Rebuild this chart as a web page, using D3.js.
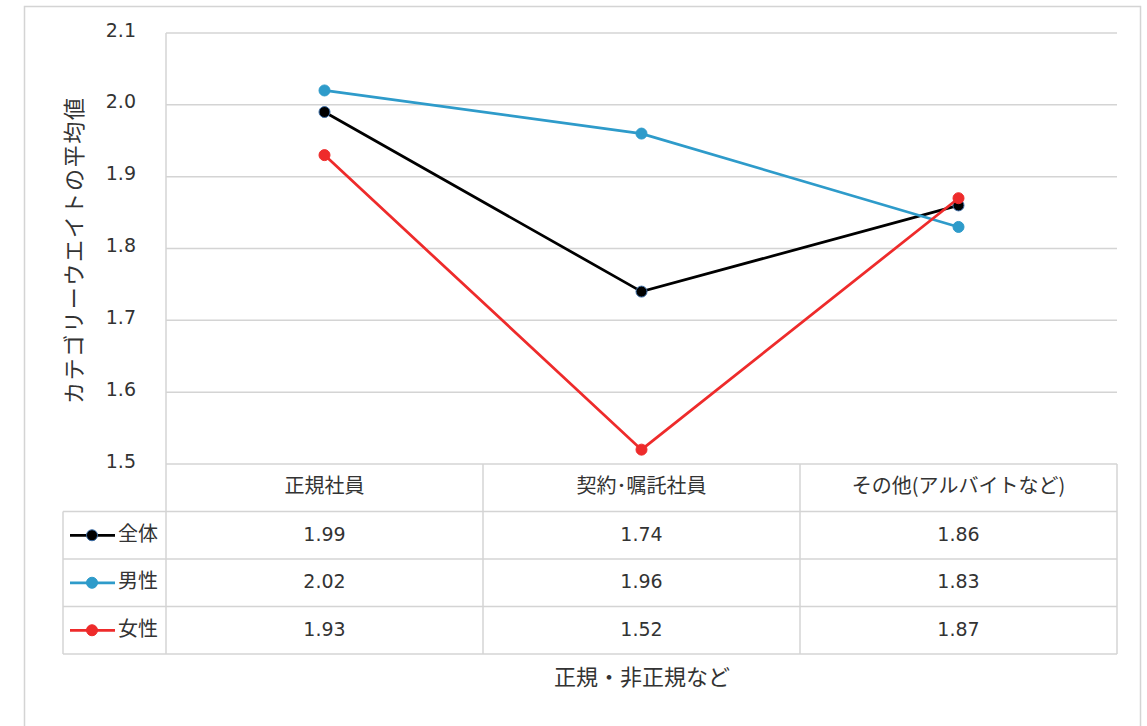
<!DOCTYPE html>
<html><head><meta charset="utf-8">
<script src="https://cdn.jsdelivr.net/npm/d3@7"></script>
<style>
body{margin:0;background:#fff;}
text{font-family:"DejaVu Sans","Noto Sans CJK JP",sans-serif;fill:#333;}
</style></head>
<body>
<svg id="chart" width="1147" height="726"></svg>
<script>
const categories = ["正規社員", "契約･嘱託社員", "その他(アルバイトなど)"];
const seriesNames = ["全体", "男性", "女性"];
const seriesColors = ["#000000", "#2E9BCA", "#EE2B2B"];
const totalValues = [1.99, 1.74, 1.86];
const maleValues = [2.02, 1.96, 1.83];
const femaleValues = [1.93, 1.52, 1.87];
const yTicks = [1.5, 1.6, 1.7, 1.8, 1.9, 2.0, 2.1];
const yTitle = "カテゴリーウエイトの平均値";
const xTitle = "正規・非正規など";

const series = [totalValues, maleValues, femaleValues].map((v, i) => ({
  name: seriesNames[i], color: seriesColors[i], values: v
}));

const svg = d3.select("#chart");
const plot = {left: 166, right: 1117, top: 33, bottom: 464};
const rowH = 47.5;
const legendLeft = 63;
const grid = "#D4D4D4";
const cjk = "'Noto Sans CJK JP',sans-serif";

// outer frame
svg.append("rect").attr("x", 24.5).attr("y", 6.5).attr("width", 1116).attr("height", 740)
  .attr("fill", "none").attr("stroke", grid).attr("stroke-width", 1.5);

const x = d3.scaleBand().domain(categories).range([plot.left, plot.right]);
const y = d3.scaleLinear().domain([1.5, 2.1]).range([plot.bottom, plot.top]);

// horizontal gridlines
svg.append("g").selectAll("line").data(yTicks).join("line")
  .attr("x1", plot.left).attr("x2", plot.right)
  .attr("y1", d => y(d)).attr("y2", d => y(d))
  .attr("stroke", grid).attr("stroke-width", 1.5);

// y tick labels
svg.append("g").selectAll("text").data(yTicks).join("text")
  .attr("x", 136).attr("y", d => y(d) - 2)
  .attr("text-anchor", "end").attr("dominant-baseline", "middle")
  .attr("font-size", 19).text(d => d.toFixed(1));

// y title
svg.append("text").attr("transform", `translate(76,251) rotate(-90)`)
  .attr("text-anchor", "middle").attr("dominant-baseline", "middle")
  .style("font-family", cjk).attr("font-size", 22)
  .attr("textLength", 306).attr("lengthAdjust", "spacing").text(yTitle);

// data table
const tableTop = plot.bottom;
const headerBottom = tableTop + rowH;
const tableBottom = headerBottom + rowH * series.length;
const tg = svg.append("g").attr("stroke", grid).attr("stroke-width", 1.5);
// vertical lines
tg.append("line").attr("x1", plot.left).attr("x2", plot.left).attr("y1", plot.top).attr("y2", tableBottom);
categories.forEach(c => {
  const xr = x(c) + x.bandwidth();
  tg.append("line").attr("x1", xr).attr("x2", xr).attr("y1", tableTop).attr("y2", tableBottom);
});
tg.append("line").attr("x1", legendLeft).attr("x2", legendLeft).attr("y1", headerBottom).attr("y2", tableBottom);
// horizontal lines
[headerBottom, ...series.map((s, i) => headerBottom + rowH * (i + 1))].forEach(yy => {
  tg.append("line").attr("x1", legendLeft).attr("x2", plot.right).attr("y1", yy).attr("y2", yy);
});

// header labels
svg.append("g").selectAll("text").data(categories).join("text")
  .attr("x", d => x(d) + x.bandwidth() / 2).attr("y", tableTop + rowH / 2)
  .attr("text-anchor", "middle").attr("dominant-baseline", "middle")
  .style("font-family", cjk).attr("font-size", 20).text(d => d);

// table values and legend keys
series.forEach((s, i) => {
  const cy = headerBottom + rowH * i + rowH / 2;
  svg.append("g").selectAll("text").data(s.values).join("text")
    .attr("x", (d, j) => x(categories[j]) + x.bandwidth() / 2).attr("y", cy)
    .attr("text-anchor", "middle").attr("dominant-baseline", "middle")
    .attr("font-size", 19).text(d => d.toFixed(2));
  svg.append("line").attr("x1", 70).attr("x2", 115).attr("y1", cy).attr("y2", cy)
    .attr("stroke", s.color).attr("stroke-width", 2.75);
  svg.append("circle").attr("cx", 92).attr("cy", cy).attr("r", 5.5)
    .attr("fill", s.color).attr("stroke", i === 0 ? "#3D6FA8" : s.color).attr("stroke-width", 1);
  svg.append("text").attr("x", 118).attr("y", cy).attr("dominant-baseline", "middle")
    .style("font-family", cjk).attr("font-size", 20).text(s.name);
});

// x title
svg.append("text").attr("x", 642).attr("y", 679)
  .attr("text-anchor", "middle").attr("dominant-baseline", "middle")
  .style("font-family", cjk).attr("font-size", 22).text(xTitle);

// lines and markers
const line = d3.line().x((d, j) => x(categories[j]) + x.bandwidth() / 2).y(d => y(d));
series.forEach((s, i) => {
  const g = svg.append("g");
  g.append("path").datum(s.values).attr("d", line)
    .attr("fill", "none").attr("stroke", s.color).attr("stroke-width", 2.75);
  g.selectAll("circle").data(s.values).join("circle")
    .attr("cx", (d, j) => x(categories[j]) + x.bandwidth() / 2).attr("cy", d => y(d))
    .attr("r", 5.5).attr("fill", s.color)
    .attr("stroke", i === 0 ? "#3D6FA8" : s.color).attr("stroke-width", 1);
});
</script>
</body></html>
